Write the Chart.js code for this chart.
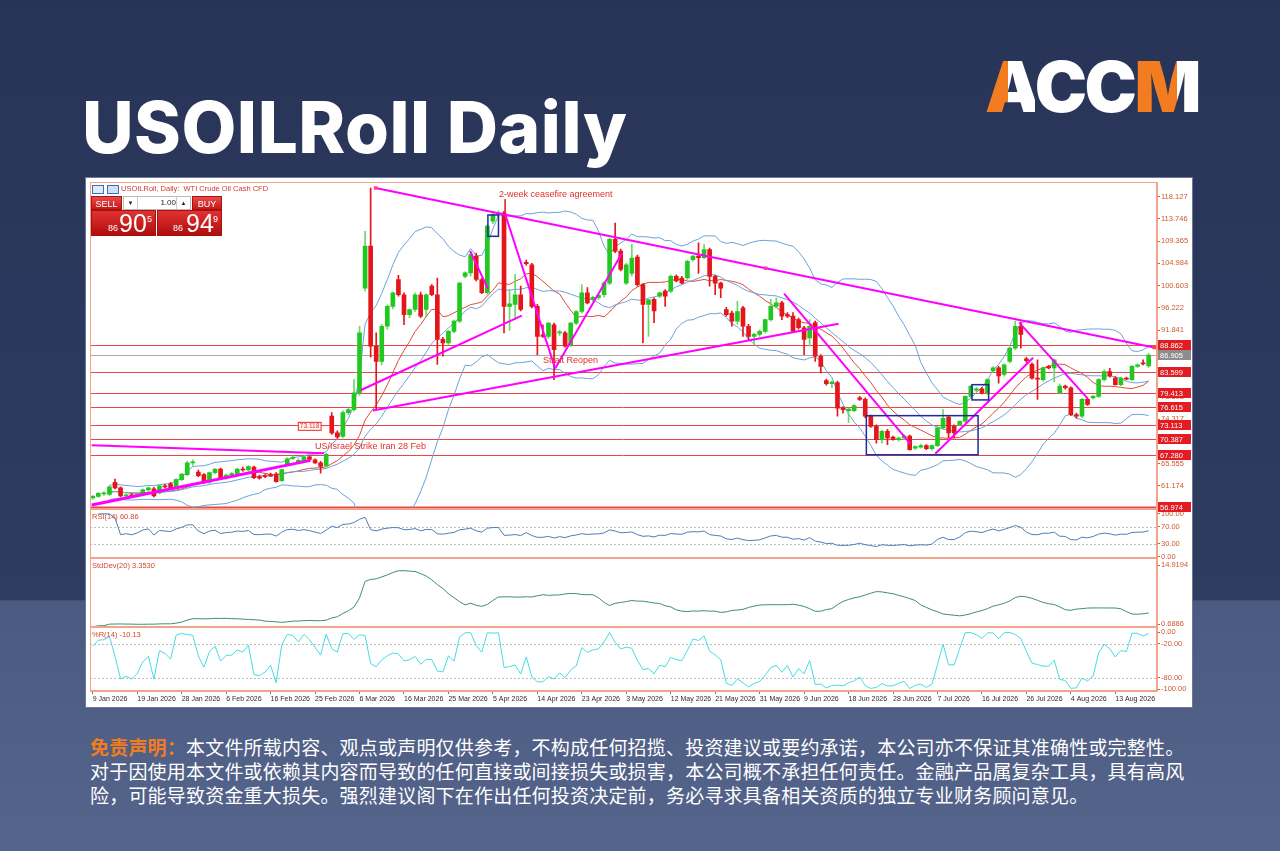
<!DOCTYPE html>
<html>
<head>
<meta charset="utf-8">
<script src="https://cdn.jsdelivr.net/npm/chart.js@4.4.1/dist/chart.umd.min.js"></script>
<style>
  body{margin:0;width:1280px;height:851px;overflow:hidden;position:relative;
    background:linear-gradient(180deg,#283457 0%,#2e3c62 70.5%,#4a5a81 70.6%,#54648b 100%);
    font-family:"Noto Sans CJK SC","Noto Sans",sans-serif}
  #title{position:absolute;left:82px;top:84px;color:#fff;font:800 71px Inter,"Noto Sans",sans-serif;letter-spacing:0.5px}
  #logo{position:absolute;left:985px;top:44px;font:900 70px Inter,sans-serif;letter-spacing:-2.5px;color:#fff}
  #logo span{-webkit-background-clip:text;background-clip:text;color:transparent}
  #logo .a{background-image:linear-gradient(90deg,#f47c20 0,#f47c20 46%,#fff 46%,#fff 100%)}
  #logo .c{color:#fff}
  #logo .m{background-image:linear-gradient(90deg,#f47c20 0,#f47c20 66%,#fff 66%,#fff 100%)}
  #panel{position:absolute;left:86px;top:178px;width:1106px;height:529px;background:#fff;box-shadow:0 0 0 1px #6b7896}
  #panel canvas{position:absolute;left:0;top:0}
  .hd{position:absolute;font:7.5px "Liberation Sans",Arial,sans-serif;color:#cf3a2c;white-space:nowrap}
  .ico{position:absolute;width:10px;height:7px;border:1px solid #3d6fb8;background:#dfe9f7}
  .btn{position:absolute;height:14px;color:#fff;font:9px "Liberation Sans",Arial,sans-serif;text-align:center;line-height:14px;
    background:linear-gradient(#e84a4a,#c41a1a);border:1px solid #a91212;box-sizing:border-box}
  .cmb{position:absolute;height:14px;background:#fff;border:1px solid #bbb;box-sizing:border-box;font:8px "Liberation Sans",Arial,sans-serif;color:#222}
  .pbox{position:absolute;height:26px;background:linear-gradient(#e23232,#b00d0d);border:1px solid #a50f0f;box-sizing:border-box;color:#fff;font-family:"Liberation Sans",Arial,sans-serif}
  .pbox span{position:absolute}
  #disc{position:absolute;left:90px;top:735px;width:1120px;color:#fff;font-size:19px;line-height:24px;letter-spacing:0.2px;white-space:nowrap}
  #disc b{color:#f47c20}
</style>
</head>
<body>
<div id="title">USOILRoll Daily</div>
<div id="logo"><span class="a">A</span><span class="c">CC</span><span class="m">M</span></div>

<div id="panel"><canvas id="c" width="1106" height="529"></canvas></div>

<div class="ico" style="left:92px;top:185px"></div>
<div class="ico" style="left:107px;top:185px;border-color:#3d6fb8;background:#cfe0f5"></div>
<div class="hd" style="left:121px;top:184px">USOILRoll, Daily:&nbsp; WTI Crude Oil Cash CFD</div>

<div class="btn" style="left:91px;top:196px;width:31px">SELL</div>
<div class="cmb" style="left:123px;top:196px;width:68px">
  <span style="position:absolute;left:0;top:0;width:13px;height:12px;border-right:1px solid #ccc;text-align:center;line-height:12px;font-size:6px">&#9660;</span>
  <span style="position:absolute;left:14px;top:0;width:38px;text-align:right;line-height:12px">1.00</span>
  <span style="position:absolute;right:0;top:0;width:13px;height:12px;border-left:1px solid #ccc;text-align:center;line-height:12px;font-size:6px">&#9650;</span>
</div>
<div class="btn" style="left:192px;top:196px;width:30px">BUY</div>
<div class="pbox" style="left:91px;top:210px;width:65px">
  <span style="left:16px;top:12px;font-size:9px">86</span>
  <span style="left:27px;top:0px;font-size:25px;line-height:25px">90</span>
  <span style="left:55px;top:3px;font-size:9px">5</span>
</div>
<div class="pbox" style="left:157px;top:210px;width:65px">
  <span style="left:15px;top:12px;font-size:9px">86</span>
  <span style="left:28px;top:0px;font-size:25px;line-height:25px">94</span>
  <span style="left:55px;top:3px;font-size:9px">9</span>
</div>

<div id="disc"><b>免责声明：</b>本文件所载内容、观点或声明仅供参考，不构成任何招揽、投资建议或要约承诺，本公司亦不保证其准确性或完整性。<br>对于因使用本文件或依赖其内容而导致的任何直接或间接损失或损害，本公司概不承担任何责任。金融产品属复杂工具，具有高风<br>险，可能导致资金重大损失。强烈建议阁下在作出任何投资决定前，务必寻求具备相关资质的独立专业财务顾问意见。</div>

<script>
// daily candles, 9 Jan 2026 -> 20 Aug 2026 (Sunday-Friday sessions)
const opens = [
  58.8,59.1,59.6,59.5,61.9,60.8,59.2,59.4,59.2,59.6, 60.4,60.6,59.8,61.2,61.6,60.8,62.4,63.4,65.7,63.9,
  63.4,61.9,63.8,64.5,62.7,63.3,63.6,64.5,64.3,64.9, 63.0,63.1,63.4,63.5,62.2,65.3,66.6,65.9,66.1,66.9,
  66.3,65.7,65.1,74.9,71.6,70.9,75.6,76.2,79.5,100.1, 108.4,88.7,85.7,92.6,96.5,101.8,98.8,94.9,95.9,98.8,
  95.9,100.5,98.8,90.0,89.3,91.6,93.6,102.4,103.1,106.4, 101.8,99.2,113.3,114.6,114.9,96.5,96.9,98.8,105.2,104.7,
  96.5,90.9,90.6,92.9,91.3,91.3,88.9,93.2,95.5,99.2, 97.9,98.2,98.8,101.1,109.7,107.4,101.1,103.0,106.2,100.8,
  96.9,97.9,98.5,99.5,99.5,102.4,102.1,102.1,105.7,106.4, 106.1,107.7,102.4,101.1,95.9,95.2,93.6,96.2,92.6,90.6,
  91.0,91.6,93.9,96.5,97.2,94.9,94.6,93.9,92.3,90.3, 93.3,86.7,81.9,81.3,81.5,76.5,76.0,76.0,78.5,78.2,
  74.9,72.9,70.3,71.9,70.8,70.3,70.6,71.0,68.6,68.8, 69.1,68.5,69.1,72.6,74.7,72.9,73.2,73.9,78.8,80.0,
  80.3,79.5,83.8,84.4,83.1,85.7,88.3,92.6,86.2,85.1, 82.4,82.1,84.7,84.4,79.5,80.8,80.5,75.2,74.9,78.2,
  78.5,78.8,82.1,83.7,82.4,81.1,82.4,82.1,84.7,85.4, 84.8
];
const highs = [
  59.3,59.9,60.0,61.2,62.5,61.0,59.6,59.7,59.8,60.6, 61.0,60.9,61.4,61.5,61.9,62.6,63.6,66.0,66.3,64.3,
  63.6,63.9,64.6,64.7,63.5,63.9,64.7,64.9,65.2,65.1, 63.3,63.4,63.7,63.8,64.5,66.7,67.1,66.5,67.0,67.1,
  66.5,66.0,67.6,75.6,72.0,76.0,76.5,82.1,92.6,111.3, 119.8,91.3,93.0,96.8,99.3,102.6,99.2,96.0,99.2,99.3,
  99.0,100.8,102.1,90.4,91.8,93.8,101.3,103.3,106.9,107.0, 102.1,112.6,115.1,115.3,115.2,99.8,102.8,100.5,105.6,105.0,
  96.9,92.9,93.3,93.2,91.8,91.6,93.4,95.7,100.8,100.2, 98.5,98.9,101.4,109.9,112.9,107.8,105.0,108.7,106.6,101.0,
  97.9,98.2,99.3,99.8,102.7,102.7,102.4,105.6,106.5,109.0, 108.7,108.0,102.6,101.3,96.3,95.6,97.5,96.5,93.0,91.2,
  91.9,94.0,97.9,98.2,97.5,95.3,95.3,94.2,92.6,93.9, 93.6,87.0,82.2,81.8,81.8,76.8,76.5,77.2,78.8,78.5,
  75.1,73.2,72.1,72.3,71.0,70.8,71.3,71.2,69.1,69.4, 69.3,69.2,72.8,76.2,75.0,73.2,74.0,78.9,80.9,80.6,
  80.6,82.3,84.6,84.7,85.2,88.4,93.6,93.4,86.5,85.4, 86.0,84.6,84.9,86.2,81.2,81.0,80.7,75.5,78.4,78.5,
  79.0,82.3,84.0,84.3,82.7,82.6,82.6,84.9,85.2,86.0, 87.2
];
const lows = [
  58.5,58.9,59.3,59.3,60.6,59.0,58.9,59.0,59.0,59.4, 60.1,59.0,59.6,60.8,60.6,60.6,62.2,63.2,65.2,63.0,
  61.6,61.6,63.6,62.5,62.5,63.0,63.4,64.1,64.1,62.6, 62.5,62.8,63.0,61.9,62.0,65.1,66.4,65.7,65.9,66.3,
  65.6,63.7,64.9,71.3,70.5,70.6,75.2,75.9,79.0,99.5, 86.5,76.2,85.0,92.0,96.0,98.5,92.9,94.3,95.5,94.3,
  94.4,98.6,85.1,86.7,89.0,91.3,93.3,102.1,102.5,101.5, 99.0,98.9,112.8,113.9,91.3,91.8,93.9,95.6,104.6,96.2,
  87.0,90.4,90.2,82.1,90.8,88.5,88.6,92.9,95.2,97.0, 97.5,97.9,98.3,100.8,107.1,103.5,100.8,102.5,100.5,89.3,
  90.6,93.3,98.2,96.5,99.2,101.3,101.0,101.8,105.4,103.0, 105.9,100.5,98.8,98.2,94.6,92.6,93.0,90.6,89.9,89.0,
  90.6,91.3,93.6,96.2,93.9,94.3,91.4,92.0,87.0,88.7, 85.7,83.4,81.0,80.5,74.9,75.5,73.6,75.8,78.0,74.6,
  72.7,69.6,69.6,69.3,70.2,70.0,70.3,68.2,68.3,68.6, 68.3,68.2,68.9,72.3,70.6,70.6,73.0,73.6,78.5,79.6,
  79.3,79.2,83.5,81.4,82.8,85.4,88.0,88.3,85.5,82.2, 78.2,81.8,84.2,81.7,79.3,80.2,75.0,74.5,74.6,77.0,
  78.3,78.6,81.8,82.6,81.0,80.9,82.1,81.9,84.5,85.0, 84.5
];
const closes = [
  59.1,59.7,59.8,61.0,60.8,59.2,59.4,59.2,59.6,60.4, 60.8,59.2,61.2,61.0,60.8,62.4,63.5,65.7,65.9,63.2,
  61.8,63.8,64.5,62.6,63.3,63.6,64.5,64.3,65.0,62.8, 62.7,63.0,63.1,62.0,64.4,66.5,66.8,66.2,66.9,66.4,
  65.7,65.0,67.4,71.6,70.8,75.6,76.2,79.5,91.3,108.4, 88.7,85.7,92.6,96.5,99.2,98.8,94.9,95.9,98.8,94.6,
  98.8,98.8,90.0,89.3,91.6,93.6,101.1,103.1,106.7,101.8, 99.2,112.3,114.6,114.9,96.5,97.0,98.8,95.9,104.9,96.5,
  90.6,90.6,93.2,88.0,91.5,88.7,93.2,95.5,99.2,97.2, 98.3,98.7,101.1,109.7,107.4,103.8,104.7,106.0,100.8,96.9,
  97.8,95.6,99.2,98.5,102.4,101.5,101.1,105.4,106.4,106.1, 107.7,102.4,101.1,100.1,94.9,93.6,95.5,92.6,90.6,91.0,
  91.6,93.9,96.5,97.2,94.6,94.6,91.6,92.3,90.0,92.6, 86.7,84.7,81.3,81.6,76.5,76.2,76.3,77.0,78.2,74.9,
  72.9,70.3,71.9,70.6,70.3,70.6,71.0,68.3,68.9,69.1, 68.5,69.1,72.6,74.5,71.6,71.6,73.9,78.8,80.8,80.3,
  79.5,82.1,84.4,82.8,85.0,88.3,92.6,91.0,85.8,82.4, 82.2,84.4,84.4,86.0,80.8,80.5,75.2,74.9,78.2,77.2,
  78.8,82.1,83.7,82.8,81.1,82.4,82.2,84.7,85.0,85.2, 86.905
];

// right axis ticks and levels
const priceTicks = [118.127,113.746,109.365,104.984,100.603,96.222,91.841,87.460,83.079,78.698,74.317,69.936,65.555,61.174,56.793];
const levelPrices = [88.862,83.599,79.413,76.615,73.113,70.387,67.280,56.974];
const bidPrice = 86.905;
const rsiTicks = [100,70,30,0];
const sdTicks = [14.9194,0.6886];
const wrTicks = [0,-20,-80,-100];
const panelLabels = ['RSI(14) 60.86','StdDev(20) 3.3530','%R(14) -10.13'];

// analyst drawings: [fromBar, fromPrice, toBar, toPrice]
const magentaLines = [
  [50.4,76.0,134.2,93.1],
  [48.2,80.0,77.2,94.7],
  [67.9,107.4,71.1,100.0],
  [74.2,114.7,83.2,84.3],
  [83.2,84.3,95.2,106.9],
  [124.4,99.0,147.1,69.5],
  [151.6,67.5,169.2,86.4],
  [166.7,93.3,179.0,78.4],
  [-0.2,69.2,41.6,67.6]
];
const mainTrend = [[50.9,119.8],[121.1,104.0],[191.0,88.4]];
const thickTrend = [[-0.2,57.4],[39.2,66.2]];
const blueBoxes = [[71.1,114.5,73.0,110.3],[139.2,75.0,159.3,67.3],[158.2,81.1,161.2,78.1]];
const notes = [['2-week ceasefire agreement',73.1,118.6],['Strait Reopen',81.0,85.9],['US/Israel Strike Iran 28 Feb',40.0,68.9]];
const noteTick = [[74.2,117.6],[74.2,114.8]];
const priceTag = ['73.118',36.9,41.0,73.0];

// date labels: no Saturday sessions, no Good Friday; one spare slot at the end
const MONTHS = ['Jan','Feb','Mar','Apr','May','Jun','Jul','Aug','Sep','Oct','Nov','Dec'];
const closedDays = ['3 Apr 2026'];
const dateLabels = [];
for (let d = new Date(Date.UTC(2026,0,9)); dateLabels.length < 192; d.setUTCDate(d.getUTCDate()+1)) {
  if (d.getUTCDay() === 6) continue;
  const lab = d.getUTCDate()+' '+MONTHS[d.getUTCMonth()]+' '+d.getUTCFullYear();
  if (closedDays.includes(lab)) continue;
  dateLabels.push(lab);
}

// indicators from the candles
function win(src,i,n){ return src.slice(Math.max(0,i-n+1),i+1); }
function mean(w){ return w.reduce((a,b)=>a+b,0)/w.length; }
const sma14 = closes.map((v,i)=> i<3 ? null : mean(win(closes,i,14)));
const mid20 = closes.map((v,i)=> i<3 ? null : mean(win(closes,i,20)));
const dev20 = closes.map((v,i)=>{ const w=win(closes,i,20), m=mean(w); return Math.sqrt(w.reduce((a,b)=>a+(b-m)*(b-m),0)/w.length); });
const bbUp = mid20.map((m,i)=> m===null?null:m+2*dev20[i]);
const bbDn = mid20.map((m,i)=> m===null?null:m-2*dev20[i]);
const rsi14 = (function(){
  let ag=0, al=0; const out=[null];
  for (let i=1;i<closes.length;i++){
    const ch=closes[i]-closes[i-1], g=Math.max(ch,0), l=Math.max(-ch,0);
    const n=Math.min(i,14);
    ag=(ag*(n-1)+g)/n; al=(al*(n-1)+l)/n;
    out.push(al===0?100:100-100/(1+ag/al));
  }
  return out;
})();
const wr14 = closes.map((c,i)=>{ const hh=Math.max(...win(highs,i,14)), ll=Math.min(...win(lows,i,14)); return hh===ll?-50:(hh-c)/(hh-ll)*-100; });

const GREEN='#20c820', RED='#e5161b', SALMON='#f2a38b', AX='#cf5a2c';
const up = closes.map((c,i)=> c>=opens[i]);

const F = 'Liberation Sans, Arial, sans-serif';
function rightAxis(extra, tickVals, digits){
  return Object.assign({
    type:'linear', position:'right', stack:'panes',
    grid:{drawOnChartArea:false, tickLength:3, color:AX},
    border:{color:SALMON},
    ticks:{autoSkip:false, font:{family:F,size:7.5}, color:AX, padding:1, callback:v=>v.toFixed(digits)},
    afterBuildTicks(sc){ sc.ticks = tickVals.map(v=>({value:v})); },
    afterFit(s){ s.width=35; s.paddingTop=0; s.paddingBottom=0; }
  }, extra);
}

const decor = {
  id:'decor',
  beforeDatasetsDraw(chart){
    const {ctx, chartArea:a, scales:s} = chart;
    ctx.save();
    ctx.lineWidth=1;
    ctx.strokeStyle='#a9a9a9';
    let y=Math.round(s.y.getPixelForValue(bidPrice))+0.5;
    ctx.beginPath(); ctx.moveTo(a.left,y); ctx.lineTo(a.right,y); ctx.stroke();
    levelPrices.forEach((p,k)=>{
      y=Math.round(s.y.getPixelForValue(p))+0.5;
      ctx.strokeStyle='#e8474a'; ctx.lineWidth = k===levelPrices.length-1 ? 2 : 1;
      ctx.beginPath(); ctx.moveTo(a.left,y); ctx.lineTo(a.right,y); ctx.stroke();
    });
    ctx.lineWidth=1; ctx.setLineDash([2,2]); ctx.strokeStyle='#bdbdbd';
    [[s.yRsi,70],[s.yRsi,30],[s.yWr,-20],[s.yWr,-80]].forEach(([sc,v])=>{
      const yy=Math.round(sc.getPixelForValue(v))+0.5;
      ctx.beginPath(); ctx.moveTo(a.left,yy); ctx.lineTo(a.right,yy); ctx.stroke();
    });
    ctx.restore();
  },
  afterDatasetsDraw(chart){
    const {ctx, chartArea:a, scales:s} = chart;
    const X=v=>s.xl.getPixelForValue(v), Y=v=>s.y.getPixelForValue(v);
    ctx.save();
    ctx.strokeStyle='#1f2a9e'; ctx.lineWidth=1.5;
    blueBoxes.forEach(([i0,p0,i1,p1])=>{ ctx.strokeRect(X(i0),Y(p0),X(i1)-X(i0),Y(p1)-Y(p0)); });
    ctx.font='9px '+F; ctx.fillStyle='#e0302a'; ctx.textBaseline='middle'; ctx.textAlign='left';
    notes.forEach(([t,i,p])=> ctx.fillText(t,X(i),Y(p)));
    // small price tag
    const tx0=X(priceTag[1]), tx1=X(priceTag[2]), ty=Y(priceTag[3]);
    ctx.fillStyle='#fff2f0'; ctx.fillRect(tx0,ty-4,tx1-tx0,8);
    ctx.strokeStyle='#e0302a'; ctx.lineWidth=1; ctx.strokeRect(tx0+0.5,ty-4+0.5,tx1-tx0,8);
    ctx.fillStyle='#e0302a'; ctx.font='6.5px '+F; ctx.fillText(priceTag[0],tx0+2,ty+0.5);
    // panel frames
    ctx.strokeStyle=SALMON; ctx.lineWidth=1;
    [s.y,s.yRsi,s.ySd,s.yWr].forEach(sc=>{
      ctx.strokeRect(a.left+0.5,Math.round(sc.top)+0.5,a.right-a.left-1,Math.round(sc.bottom-sc.top)-1);
    });
    ctx.fillStyle='#d2472e'; ctx.font='7.5px '+F; ctx.textBaseline='middle';
    [s.yRsi,s.ySd,s.yWr].forEach((sc,k)=> ctx.fillText(panelLabels[k],a.left+2,sc.top+8));
    ctx.restore();
  },
  afterDraw(chart){
    const {ctx, chartArea:a, scales:s} = chart;
    ctx.save();
    ctx.font='7.5px '+F; ctx.textBaseline='middle'; ctx.textAlign='left';
    const tag=(p,bg)=>{
      const y=Math.round(s.y.getPixelForValue(p));
      ctx.fillStyle=bg; ctx.fillRect(a.right+1,y-5,33,10);
      ctx.fillStyle='#fff'; ctx.fillText(p.toFixed(3),a.right+3,y+0.5);
    };
    levelPrices.forEach(p=>tag(p,'#e31b23'));
    tag(bidPrice,'#8d8d8d');
    ctx.restore();
  }
};

const lineDs = (data,color,axis,order)=>({type:'line',data,borderColor:color,borderWidth:1,pointRadius:0,yAxisID:axis,xAxisID:'x',order:order||6,tension:0,spanGaps:true});
const trendDs = (pts,color,width)=>({type:'line',data:pts.map(([x,y])=>({x,y})),borderColor:color,borderWidth:width,pointRadius:0,xAxisID:'xl',yAxisID:'y',order:1,tension:0});

const datasets = [
  lineDs(bbUp,'#6aa3d8','y'),
  lineDs(mid20,'#6aa3d8','y'),
  lineDs(bbDn,'#6aa3d8','y'),
  lineDs(sma14,'#de4a36','y'),
  {type:'bar',data:lows.map((l,i)=>[l,highs[i]]),backgroundColor:up.map(u=>u?'#6ad86a':RED),barThickness:1,grouped:false,order:3,xAxisID:'x',yAxisID:'y'},
  {type:'bar',data:opens.map((o,i)=>[o,closes[i]]),backgroundColor:up.map(u=>u?GREEN:RED),barThickness:4,minBarLength:1,grouped:false,order:2,xAxisID:'x',yAxisID:'y'},
  lineDs(rsi14,'#4a7fb8','yRsi'),
  lineDs(dev20,'#3f8f6c','ySd'),
  lineDs(wr14,'#45dbe3','yWr'),
  trendDs(thickTrend,'#ff00ff',3),
  trendDs(noteTick,'#e0302a',1)
];
magentaLines.forEach(([a,b,c,d])=>datasets.push(trendDs([[a,b],[c,d]],'#ff00ff',2)));
const mt = trendDs(mainTrend,'#ff00ff',2);
mt.pointRadius=2.5; mt.pointStyle='rect'; mt.pointBackgroundColor=['#ff3d9a','#ff3d9a','#ff4040']; mt.pointBorderWidth=0;
datasets.push(mt);

new Chart(document.getElementById('c'),{
  data:{labels:dateLabels,datasets},
  options:{
    responsive:false, animation:false, events:[],
    layout:{padding:{left:2,top:3,right:0,bottom:0}},
    plugins:{legend:{display:false},tooltip:{enabled:false}},
    scales:{
      x:{type:'category',offset:true,
        grid:{drawOnChartArea:false,tickLength:3,color:AX,offset:false},
        border:{color:SALMON},
        ticks:{autoSkip:false,maxRotation:0,align:'start',font:{family:F,size:7},color:'#2a2a2a',padding:1},
        afterBuildTicks(sc){ sc.ticks = sc.ticks.filter(t=>t.value%8===0); },
        afterFit(sc){ sc.height=16; sc.paddingLeft=0; sc.paddingRight=0; }
      },
      xl:{type:'linear',display:false,min:-0.5,max:191.5},
      y:rightAxis({stackWeight:328,min:56.56,max:120.99}, priceTicks, 3),
      yRsi:rightAxis({stackWeight:49,min:-3.5,max:110.5}, rsiTicks, 2),
      ySd:rightAxis({stackWeight:69,min:-0.035,max:16.61}, sdTicks, 4),
      yWr:rightAxis({stackWeight:64,min:-103.5,max:8.8}, wrTicks, 2)
    }
  },
  plugins:[decor]
});
</script>
</body>
</html>
